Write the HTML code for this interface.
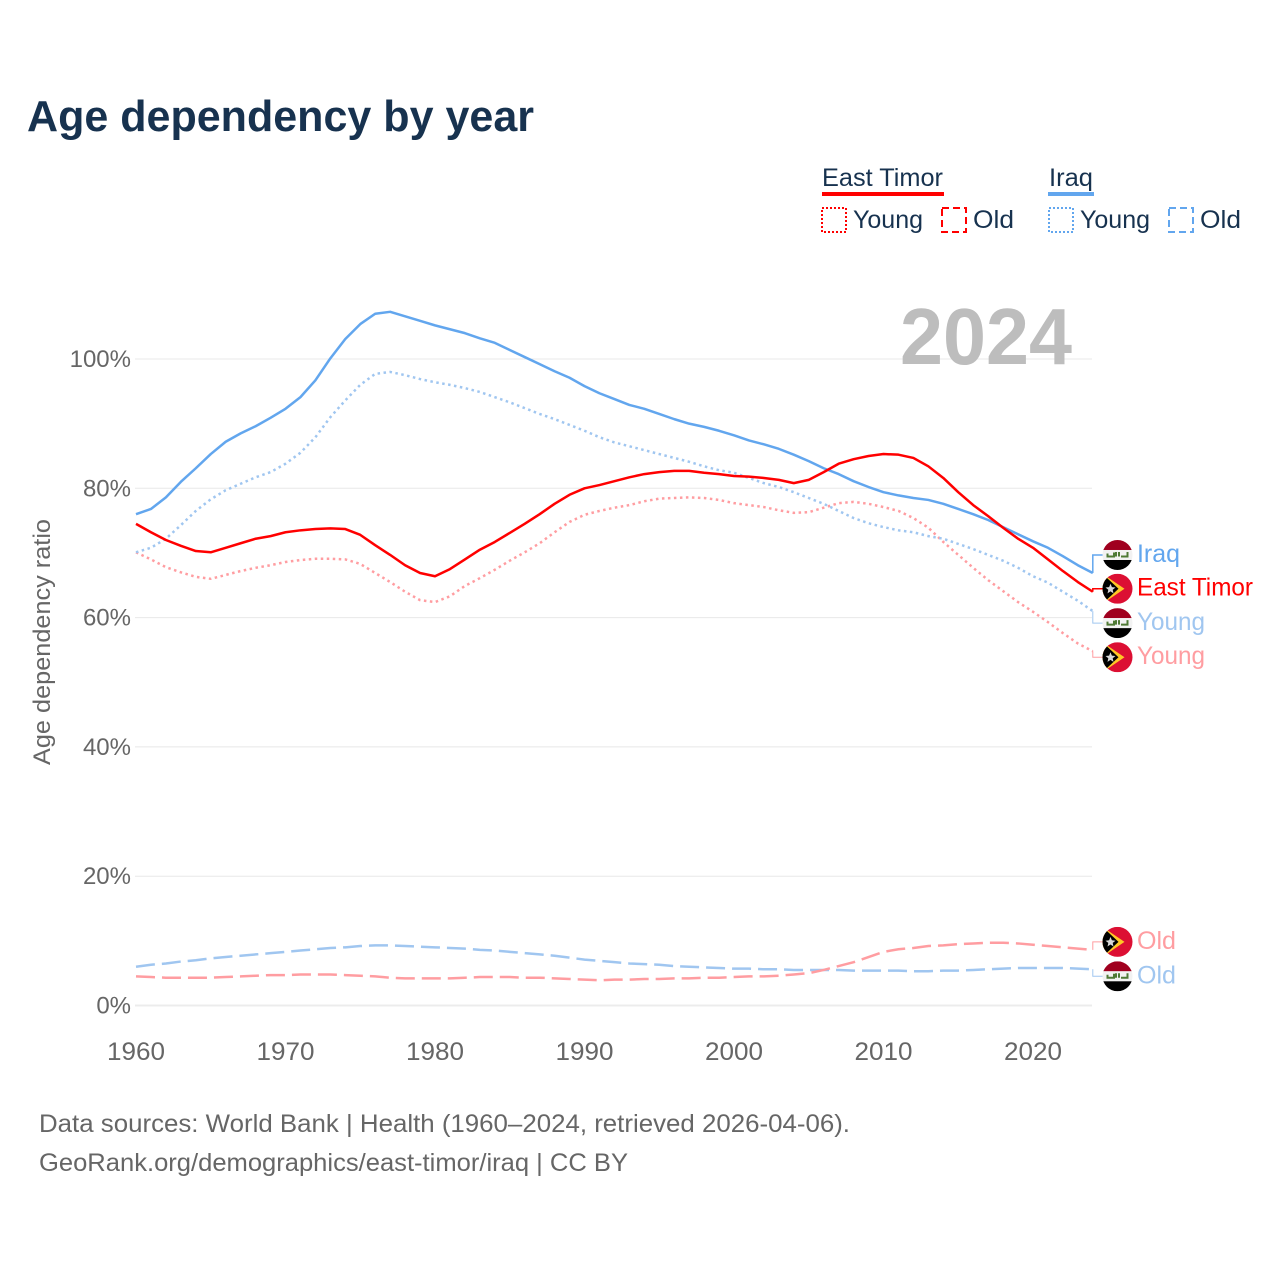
<!DOCTYPE html>
<html lang="en">
<head>
<meta charset="utf-8">
<title>Age dependency by year</title>
<style>
html,body{margin:0;padding:0;background:#fff;width:1280px;height:1280px;overflow:hidden}
svg{display:block}
text{font-family:"Liberation Sans",sans-serif}
</style>
</head>
<body>
<svg id="chart" width="1280" height="1280" viewBox="0 0 1280 1280" xmlns="http://www.w3.org/2000/svg">
<rect width="1280" height="1280" fill="#fff"/>
<defs>
<clipPath id="flag-clip"><circle cx="0" cy="0" r="15"/></clipPath>
</defs>
<text x="27" y="131" font-size="44" font-weight="700" fill="#17324f" textLength="507" lengthAdjust="spacingAndGlyphs">Age dependency by year</text>

<g font-size="25" fill="#17324f">
<text x="822" y="186" textLength="121" lengthAdjust="spacingAndGlyphs">East Timor</text>
<rect x="822" y="192" width="122" height="4" fill="#ff0000"/>
<text x="1049" y="186" textLength="44" lengthAdjust="spacingAndGlyphs">Iraq</text>
<rect x="1048" y="192" width="46" height="4" fill="#62a6ee"/>
<rect x="822" y="208" width="24" height="24" fill="none" stroke="#ff0000" stroke-width="2" stroke-dasharray="2 2"/>
<text x="853" y="228" textLength="70" lengthAdjust="spacingAndGlyphs">Young</text>
<rect x="942" y="208" width="24" height="24" fill="none" stroke="#ff0000" stroke-width="2" stroke-dasharray="7 4"/>
<text x="973" y="228" textLength="41" lengthAdjust="spacingAndGlyphs">Old</text>
<rect x="1049" y="208" width="24" height="24" fill="none" stroke="#62a6ee" stroke-width="2" stroke-dasharray="2 2"/>
<text x="1080" y="228" textLength="70" lengthAdjust="spacingAndGlyphs">Young</text>
<rect x="1169" y="208" width="24" height="24" fill="none" stroke="#62a6ee" stroke-width="2" stroke-dasharray="7 4"/>
<text x="1200" y="228" textLength="41" lengthAdjust="spacingAndGlyphs">Old</text>
</g>

<g id="grid"></g>
<g id="yticks"></g>
<g id="xticks"></g>
<text transform="translate(50,642) rotate(-90)" text-anchor="middle" font-size="24" fill="#666" textLength="246" lengthAdjust="spacingAndGlyphs">Age dependency ratio</text>
<text x="900" y="364" font-size="80" font-weight="700" fill="#bdbdbd" textLength="172" lengthAdjust="spacingAndGlyphs">2024</text>
<g id="series"></g>
<g id="endlabels"></g>

<g font-size="25" fill="#666">
<text x="39" y="1132" textLength="811" lengthAdjust="spacingAndGlyphs">Data sources: World Bank | Health (1960–2024, retrieved 2026-04-06).</text>
<text x="39" y="1171" textLength="589" lengthAdjust="spacingAndGlyphs">GeoRank.org/demographics/east-timor/iraq | CC BY</text>
</g>
</svg>
<script>
const startYear = 1960;
const yTickValues = [0, 20, 40, 60, 80, 100];
const xTickValues = [1960, 1970, 1980, 1990, 2000, 2010, 2020];
const iraqTotal = [76.0,76.8,78.6,81.0,83.1,85.3,87.2,88.5,89.6,90.9,92.3,94.1,96.7,100.1,103.1,105.4,107.0,107.3,106.6,105.9,105.2,104.6,104.0,103.2,102.5,101.4,100.3,99.2,98.1,97.1,95.8,94.7,93.8,92.9,92.3,91.5,90.7,90.0,89.5,88.9,88.2,87.4,86.8,86.1,85.2,84.2,83.1,82.2,81.1,80.2,79.4,78.9,78.5,78.2,77.6,76.8,76.0,75.1,74.0,72.9,71.8,70.8,69.5,68.1,66.9];
const iraqYoung = [70.1,70.8,72.2,74.3,76.5,78.3,79.7,80.7,81.7,82.5,83.8,85.5,87.9,91.0,93.6,96.0,97.7,98.0,97.5,96.9,96.4,96.0,95.5,94.9,94.1,93.3,92.4,91.5,90.7,89.8,88.9,87.9,87.1,86.5,85.9,85.3,84.7,84.1,83.4,82.8,82.4,81.6,80.8,80.2,79.4,78.5,77.6,76.5,75.4,74.6,74.0,73.5,73.2,72.6,72.2,71.4,70.6,69.7,68.8,67.7,66.4,65.4,64.0,62.6,61.0];
const iraqOld = [6.0,6.3,6.5,6.8,7.0,7.3,7.5,7.7,7.9,8.1,8.3,8.5,8.7,8.9,9.0,9.2,9.3,9.3,9.2,9.1,9.0,8.9,8.8,8.6,8.5,8.3,8.1,7.9,7.7,7.4,7.1,6.9,6.7,6.5,6.4,6.3,6.1,6.0,5.9,5.8,5.7,5.7,5.6,5.6,5.5,5.5,5.5,5.5,5.4,5.4,5.4,5.4,5.3,5.3,5.4,5.4,5.5,5.6,5.7,5.8,5.8,5.8,5.8,5.7,5.6];
const timorTotal = [74.5,73.2,72.0,71.1,70.3,70.1,70.8,71.5,72.2,72.6,73.2,73.5,73.7,73.8,73.7,72.8,71.2,69.7,68.1,66.9,66.4,67.5,69.0,70.5,71.7,73.1,74.5,76.0,77.6,79.0,80.0,80.5,81.1,81.7,82.2,82.5,82.7,82.7,82.4,82.2,81.9,81.8,81.6,81.3,80.8,81.3,82.5,83.8,84.5,85.0,85.3,85.2,84.7,83.4,81.6,79.4,77.4,75.7,73.9,72.2,70.8,69.0,67.2,65.5,64.0];
const timorYoung = [70.1,69.0,67.8,67.0,66.3,66.0,66.6,67.2,67.7,68.1,68.6,68.9,69.1,69.1,69.0,68.3,66.9,65.5,64.0,62.7,62.4,63.3,64.9,66.1,67.4,68.8,70.1,71.5,73.2,74.8,75.9,76.5,77.0,77.4,78.0,78.4,78.5,78.6,78.5,78.2,77.7,77.4,77.1,76.6,76.2,76.3,77.0,77.7,77.9,77.6,77.1,76.5,75.4,73.9,71.7,69.7,67.7,65.8,64.1,62.4,60.9,59.3,57.6,56.0,54.8];
const timorOld = [4.5,4.4,4.3,4.3,4.3,4.3,4.4,4.5,4.6,4.7,4.7,4.8,4.8,4.8,4.7,4.6,4.5,4.3,4.2,4.2,4.2,4.2,4.3,4.4,4.4,4.4,4.3,4.3,4.2,4.1,4.0,3.9,4.0,4.0,4.1,4.1,4.2,4.2,4.3,4.3,4.4,4.5,4.5,4.6,4.8,5.0,5.5,6.1,6.7,7.5,8.3,8.7,8.9,9.2,9.3,9.5,9.6,9.7,9.7,9.6,9.4,9.2,9.0,8.8,8.6];

const SVGNS = 'http://www.w3.org/2000/svg';
const xScale = function (year) { return 136 + (year - 1960) * 14.95; };
const yScale = function (v) { return 1005.5 - v * 6.465; };

function make(tag, parent, attrs) {
  const el = document.createElementNS(SVGNS, tag);
  Object.keys(attrs).forEach(function (k) { el.setAttribute(k, attrs[k]); });
  parent.appendChild(el);
  return el;
}

const grid = document.getElementById('grid');
const yticks = document.getElementById('yticks');
yTickValues.forEach(function (v) {
  const line = make('line', grid, {x1: 135, x2: 1092, y1: yScale(v), y2: yScale(v), stroke: v === 0 ? '#ececec' : '#e8e8e8', 'stroke-width': v === 0 ? 2 : 1});
  
  
  const t = make('text', yticks, {x: 131, y: yScale(v) + 8, 'text-anchor': 'end', 'font-size': 24, fill: '#666'});
  t.textContent = v + '%';
  
  
});

const xticks = document.getElementById('xticks');
xTickValues.forEach(function (yr) {
  const t = make('text', xticks, {x: xScale(yr), y: 1060, 'text-anchor': 'middle', 'font-size': 25, fill: '#666', textLength: 58, lengthAdjust: 'spacingAndGlyphs'});
  t.textContent = String(yr);
  
  
});

function drawSeries(values, color, width, dash, name) {
  const pts = values.map(function (v, i) {
    return xScale(startYear + i).toFixed(2) + ',' + yScale(v).toFixed(2);
  }).join(' ');
  const attrs = {points: pts, fill: 'none', stroke: color, 'stroke-width': width, 'stroke-linejoin': 'round'};
  if (dash) { attrs['stroke-dasharray'] = dash; }
  const line = make('polyline', document.getElementById('series'), attrs);
  
  
}

drawSeries(iraqOld, '#a0c6f0', 2.5, '19 7', 'line-iraq-old');
drawSeries(timorOld, '#ff9da1', 2.5, '19 7', 'line-east-timor-old');
drawSeries(timorYoung, '#ff9da1', 2.5, '2.5 3.5', 'line-east-timor-young');
drawSeries(iraqYoung, '#a0c6f0', 2.5, '2.5 3.5', 'line-iraq-young');
drawSeries(iraqTotal, '#62a6ee', 2.5, null, 'line-iraq-total');
drawSeries(timorTotal, '#ff0000', 2.5, null, 'line-east-timor-total');

function drawIraqFlag(g) {
  make('rect', g, {x: -15, y: -15, width: 30, height: 10, fill: '#a0001f'});
  make('rect', g, {x: -15, y: -5, width: 30, height: 10, fill: '#f2f2f2'});
  make('rect', g, {x: -15, y: 5, width: 30, height: 10, fill: '#000'});
  make('path', g, {d: 'M-10 -1.5v3h6.5v-4M-1.5 -3v4.5M1.5 -3v4.5M3.5 1.5h6.5v-4.5', fill: 'none', stroke: '#4f7a35', 'stroke-width': 2});
}

function drawTimorFlag(g) {
  make('rect', g, {x: -15, y: -15, width: 30, height: 30, fill: '#dc0f33'});
  make('polygon', g, {points: '-15,-15 7,0 -15,15', fill: '#ffc726'});
  make('polygon', g, {points: '-15,-15 1,0 -15,15', fill: '#000'});
  make('polygon', g, {points: '-7,-5 -5.6,-1.6 -2,-1.2 -4.8,1 -4,4.6 -7,2.6 -10,4.6 -9.2,1 -12,-1.2 -8.4,-1.6', fill: '#d8d8d8'});
}

function drawEndLabel(values, text, width, color, labelOffset, flag, thin, name) {
  const root = document.getElementById('endlabels');
  const lastY = yScale(values[values.length - 1]);
  const cy = lastY + labelOffset;
  const lastX = xScale(startYear + values.length - 1);
  const conn = make('polyline', root, {points: lastX + ',' + lastY + ' ' + lastX + ',' + cy + ' 1104,' + cy, fill: 'none', stroke: color, 'stroke-width': thin});
  
  
  const g = make('g', root, {transform: 'translate(1117.5,' + cy + ')', 'clip-path': 'url(#flag-clip)'});
  
  
  if (flag === 'iraq') { drawIraqFlag(g); } else { drawTimorFlag(g); }
  const t = make('text', root, {x: 1137, y: cy + 7, 'font-size': 25, fill: color, textLength: width, lengthAdjust: 'spacingAndGlyphs'});
  t.textContent = text;
  
  
}

drawEndLabel(iraqTotal, 'Iraq', 43, '#62a6ee', -18, 'iraq', 1.5, 'end-iraq-total');
drawEndLabel(timorTotal, 'East Timor', 116, '#ff0000', -3, 'timor', 1.5, 'end-east-timor-total');
drawEndLabel(iraqYoung, 'Young', 68, '#a0c6f0', 12, 'iraq', 1, 'end-iraq-young');
drawEndLabel(timorYoung, 'Young', 68, '#ff9da1', 6, 'timor', 1, 'end-east-timor-young');
drawEndLabel(timorOld, 'Old', 39, '#ff9da1', -8, 'timor', 1, 'end-east-timor-old');
drawEndLabel(iraqOld, 'Old', 39, '#a0c6f0', 7, 'iraq', 1, 'end-iraq-old');
</script>
</body>
</html>
